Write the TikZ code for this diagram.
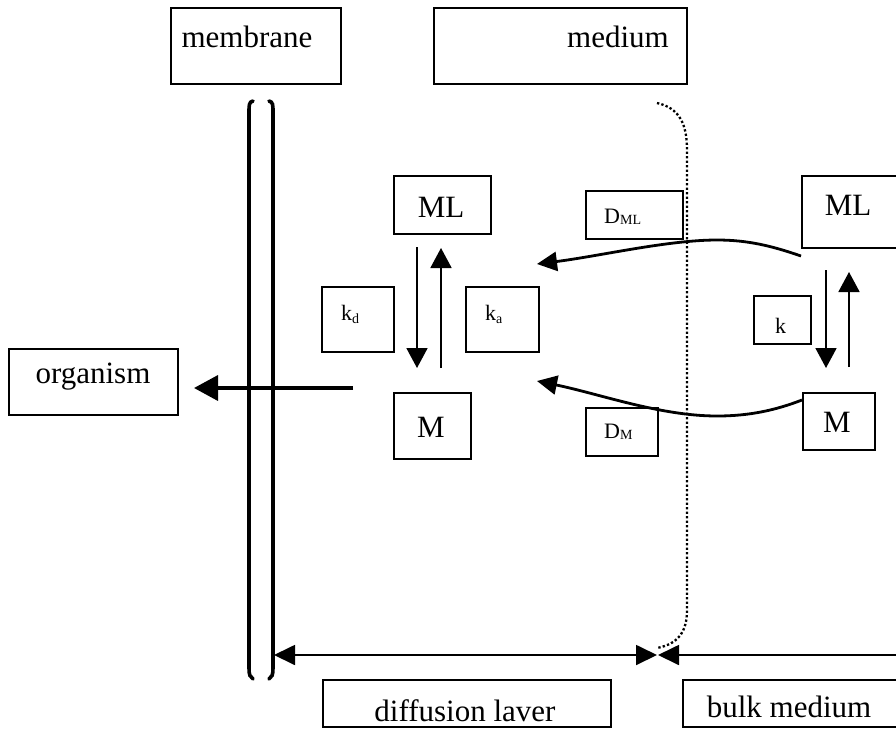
\documentclass[tikz,border=0pt]{standalone}
\usepackage{fontspec}
\setmainfont{Liberation Serif}
\usetikzlibrary{arrows.meta}
\tikzset{
  box/.style={draw, line width=1.8pt, rectangle, inner sep=0pt, anchor=north west},
  big/.style={font=\fontsize{31}{31}\selectfont, anchor=base, inner sep=0pt},
  small/.style={font=\fontsize{22}{22}\selectfont, anchor=base west, inner sep=0pt},
  thinarrow/.style={line width=1.8pt, -{Triangle[length=20pt,width=21pt]}},
  curvearrow/.style={line width=2.8pt, -{Triangle[length=20pt,width=19pt]}},
  bracketline/.style={line width=3.6pt, line cap=round},
  dotline/.style={line width=2.3pt, dash pattern=on 2.3pt off 2.2pt},
}
\newcommand{\subsc}[1]{\raisebox{-3pt}{\fontsize{14}{14}\selectfont #1}}
\newcommand{\subcap}[1]{\raisebox{-1pt}{\fontsize{14}{14}\selectfont #1}}
\begin{document}
\begin{tikzpicture}[x=1pt,y=-1pt]
\useasboundingbox (0,0) rectangle (896,728);
\clip (0,0) rectangle (896,728);
\fill[white] (0,0) rectangle (896,728);

% top boxes
\node[box, minimum width=170pt, minimum height=76pt] (membrane) at (170,7) {};
\node[big] (membraneT) at (247,47) {membrane};
\node[box, minimum width=253pt, minimum height=76pt] (medium) at (433,7) {};
\node[big] (mediumT) at (618,47) {medium};

% membrane brackets
\draw[bracketline] (253,101) .. controls (249,102) and (249,105) .. (249,112) -- (249,668) .. controls (249,675) and (250,677) .. (253,679);
\draw[bracketline] (269,101) .. controls (273,102) and (273,105) .. (273,112) -- (273,668) .. controls (273,675) and (272,677) .. (269,679);

% dotted boundary
\draw[dotline] (657,103) .. controls (680,108) and (687,125) .. (687,150) -- (687,610) .. controls (687,632) and (678,644) .. (657,648);

% left species
\node[box, minimum width=97pt, minimum height=58pt] (MLl) at (393,175) {};
\node[big] (MLlT) at (441,217) {ML};
\node[box, minimum width=77pt, minimum height=66pt] (Ml) at (393,392) {};
\node[big] (MlT) at (431,437) {M};
\node[box, minimum width=72pt, minimum height=65pt] (kd) at (321,286) {};
\node[small] (kdT) at (341,320) {k\subsc{d}};
\node[box, minimum width=73pt, minimum height=65pt] (ka) at (465,286) {};
\node[small] (kaT) at (485,320) {k\subsc{a}};

\coordinate (dl1) at (417,247);
\coordinate (dl2) at (417,368);
\coordinate (ul1) at (441,368);
\coordinate (ul2) at (441,248);
\draw[thinarrow] (dl1) -- (dl2);
\draw[thinarrow] (ul1) -- (ul2);

% organism
\node[box, minimum width=169pt, minimum height=66pt] (organism) at (8,348) {};
\node[big] (organismT) at (93,383) {organism};
\coordinate (orgstart) at (353,388);
\coordinate (orgend) at (194,388);
\draw[line width=3.6pt, -{Triangle[length=24pt,width=25pt]}] (orgstart) -- (orgend);

% diffusion labels
\node[box, minimum width=97pt, minimum height=48pt] (DML) at (585,190) {};
\node[small] (DMLT) at (604,223) {D\subcap{ML}};
\node[box, minimum width=72pt, minimum height=48pt] (DM) at (585,407) {};
\node[small] (DMT) at (604,438) {D\subcap{M}};

% right species
\node[box, minimum width=110pt, minimum height=72pt] (MLr) at (801,175) {};
\node[big] (MLrT) at (848,215) {ML};
\node[box, minimum width=72pt, minimum height=57pt] (Mr) at (802,392) {};
\node[big] (MrT) at (837,432) {M};
\node[box, minimum width=57pt, minimum height=48pt] (kr) at (753,295) {};
\node[small] (krT) at (775,333) {k};

\coordinate (dr1) at (826,270);
\coordinate (dr2) at (826,368);
\coordinate (ur1) at (849,367);
\coordinate (ur2) at (849,272);
\draw[thinarrow] (dr1) -- (dr2);
\draw[thinarrow] (ur1) -- (ur2);

% diffusion curves
\coordinate (c1s) at (801,256);
\coordinate (c1p) at (717,240);
\coordinate (c1e) at (537,264);
\draw[curvearrow] (c1s) .. controls (772,246) and (748,240) .. (c1p) .. controls (668,240) and (600,256) .. (c1e);
\coordinate (c2s) at (802,400);
\coordinate (c2p) at (717,416);
\coordinate (c2e) at (537,381);
\draw[curvearrow] (c2s) .. controls (776,410) and (750,416) .. (c2p) .. controls (660,416) and (600,394) .. (c2e);

% bottom arrows
\coordinate (bl) at (274,655);
\coordinate (bm) at (657,655);
\coordinate (bm2) at (658,655);
\coordinate (br) at (896,655);
\draw[line width=1.8pt, {Triangle[length=21pt,width=20pt]}-{Triangle[length=21pt,width=20pt]}] (bl) -- (bm);
\draw[line width=1.8pt, -{Triangle[length=21pt,width=20pt]}] (br) -- (bm2);

% bottom boxes
\node[box, minimum width=288pt, minimum height=47pt] (diff) at (322,679) {};
\node[big] (diffT) at (465,721) {diffusion laver};
\node[box, minimum width=228pt, minimum height=47pt] (bulk) at (682,679) {};
\node[big] (bulkT) at (789,717) {bulk medium};
\end{tikzpicture}
\end{document}
